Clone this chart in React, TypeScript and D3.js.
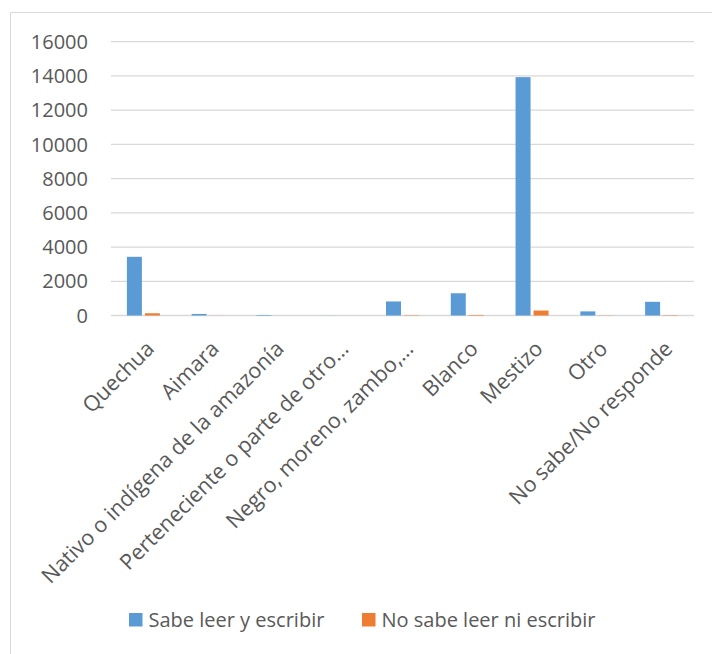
import React from "react";
import * as d3 from "d3";

const categories = [
  "Quechua",
  "Aimara",
  "Nativo o indígena de la amazonía",
  "Perteneciente o parte de otro…",
  "Negro, moreno, zambo,…",
  "Blanco",
  "Mestizo",
  "Otro",
  "No sabe/No responde",
];
const sabeLeer = [3430, 90, 30, 5, 820, 1300, 13930, 240, 800];
const noSabeLeer = [130, 5, 2, 1, 20, 30, 290, 10, 20];
const seriesNames = ["Sabe leer y escribir", "No sabe leer ni escribir"];
const yTicks = [0, 2000, 4000, 6000, 8000, 10000, 12000, 14000, 16000];

const W = 712;
const H = 654;
const colors = ["#5B9BD5", "#ED7D31"];
const font = "'Open Sans', sans-serif";
const fs = 20;
const fsCat = 21.5;

export default function App() {
  const left = 111;
  const right = 694;
  const top = 41.7;
  const bottom = 315.5;
  const x = d3.scaleBand<string>().domain(categories).range([left, right]);
  const y = d3.scaleLinear().domain([0, 16000]).range([bottom, top]);
  const bw = 15;
  const series = [sabeLeer, noSabeLeer];
  return (
    <svg
      width={W}
      height={H}
      style={{ position: "absolute", left: 0, top: 0, background: "#fff" }}
      fontFamily={font}
    >
      <rect x={0} y={0} width={W} height={H} fill="#fff" />
      <line x1={10.5} y1={12.5} x2={W} y2={12.5} stroke="#D9D9D9" />
      <line x1={10.5} y1={12.5} x2={10.5} y2={H} stroke="#D9D9D9" />
      {yTicks.map((t) => (
        <g key={t}>
          <line x1={left} x2={right} y1={y(t)} y2={y(t)} stroke="#D9D9D9" strokeWidth={1.3} />
          <text x={88} y={y(t)} dy="0.36em" textAnchor="end" fontSize={fs} fill="#595959">
            {t}
          </text>
        </g>
      ))}
      {series.map((s, si) =>
        s.map((v, i) => {
          const c = x(categories[i])! + x.bandwidth() / 2;
          const bx = si === 0 ? c - 1.5 - bw : c + 1.5;
          return (
            <rect
              key={si + "-" + i}
              x={bx}
              y={y(v)}
              width={bw}
              height={bottom - y(v)}
              fill={colors[si]}
            />
          );
        })
      )}
      {categories.map((cat) => {
        const c = x(cat)! + x.bandwidth() / 2;
        return (
          <text
            key={cat}
            transform={`translate(${c + 1.5},${bottom + 24}) rotate(-45)`}
            textAnchor="end"
            dy="0.7em"
            fontSize={fsCat}
            fill="#595959"
          >
            {cat}
          </text>
        );
      })}
      {seriesNames.map((n, i) => {
        const lx = i === 0 ? 129 : 362;
        return (
          <g key={n}>
            <rect x={lx} y={613} width={13.5} height={13.5} fill={colors[i]} />
            <text x={lx + 19.5} y={626.5} fontSize={fs} fill="#595959">
              {n}
            </text>
          </g>
        );
      })}
    </svg>
  );
}
